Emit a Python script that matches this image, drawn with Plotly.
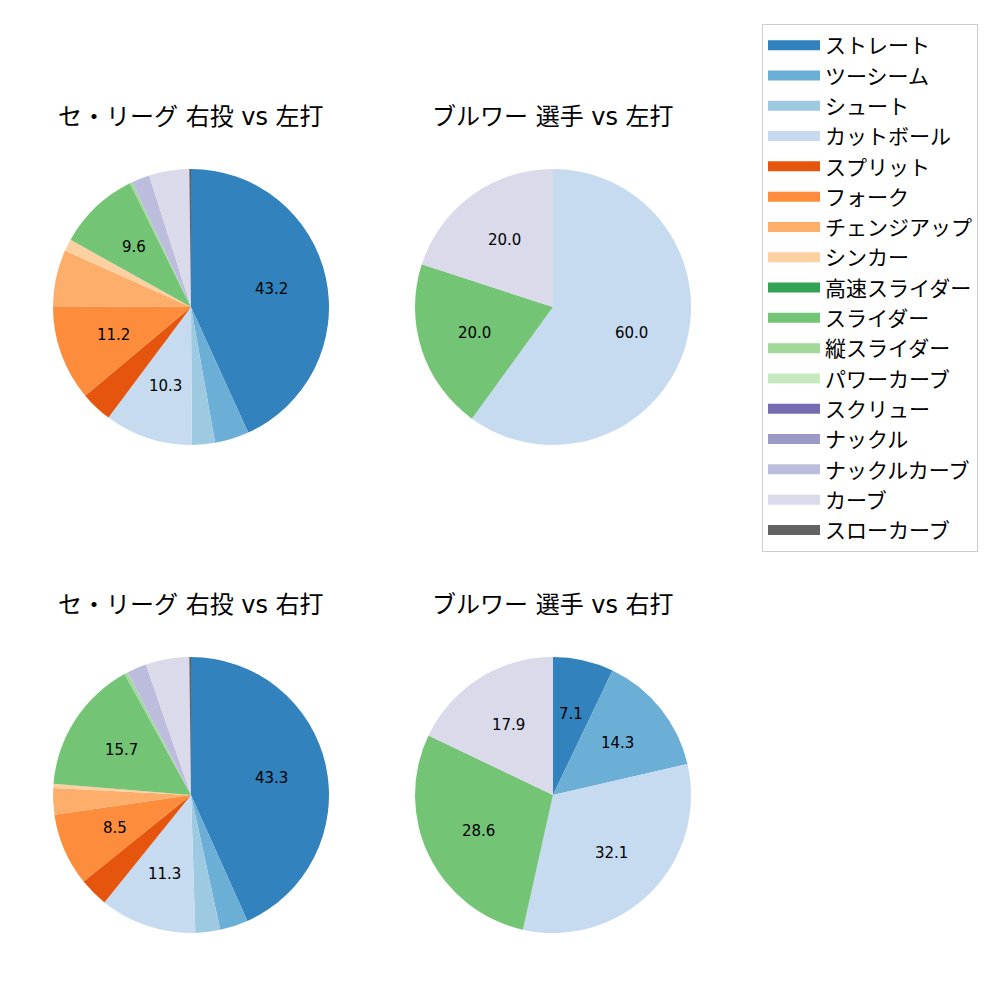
import math
import plotly.graph_objects as go

pitch_types = ["ストレート", "ツーシーム", "シュート", "カットボール", "スプリット", "フォーク",
               "チェンジアップ", "シンカー", "高速スライダー", "スライダー", "縦スライダー",
               "パワーカーブ", "スクリュー", "ナックル", "ナックルカーブ", "カーブ", "スローカーブ"]
colors = ["#3182bd", "#6baed6", "#9ecae1", "#c6dbef", "#e6550d", "#fd8d3c", "#fdae6b", "#fdd0a2",
          "#31a354", "#74c476", "#a1d99b", "#c7e9c0", "#756bb1", "#9e9ac8", "#bcbddc", "#dadaeb",
          "#636363"]

league_vs_left = [43.2, 4.0, 2.7, 10.3, 3.7, 11.2, 6.6, 1.4, 0.0, 9.6, 0.3, 0.0, 0.0, 0.0, 2.1, 4.7, 0.2]
player_vs_left = [0, 0, 0, 60.0, 0, 0, 0, 0, 0, 20.0, 0, 0, 0, 0, 0, 20.0, 0]
league_vs_right = [43.3, 3.3, 2.9, 11.3, 3.4, 8.5, 3.1, 0.5, 0.0, 15.7, 0.4, 0.0, 0.0, 0.0, 2.3, 5.1, 0.2]
player_vs_right = [7.1, 14.3, 0, 32.1, 0, 0, 0, 0, 0, 28.6, 0, 0, 0, 0, 0, 17.9, 0]

titles = ["セ・リーグ 右投 vs 左打", "ブルワー 選手 vs 左打", "セ・リーグ 右投 vs 右打", "ブルワー 選手 vs 右打"]
series = [league_vs_left, player_vs_left, league_vs_right, player_vs_right]

FONT = "DejaVu Sans, Noto Sans CJK JP"
label_threshold = 7.0

# pixel geometry (1000x1000 canvas)
centers = [(191, 307), (553, 307), (191, 795), (553, 795)]
R = 138
title_y = [117, 117, 605, 605]

fig = go.Figure()
for vals, (cx, cy) in zip(series, centers):
    labs, vs, cs = [], [], []
    for lab, v, c in zip(pitch_types, vals, colors):
        if v > 0:
            labs.append(lab); vs.append(v); cs.append(c)
    fig.add_trace(go.Pie(
        labels=labs, values=vs, textinfo="none",
        marker=dict(colors=cs, line=dict(width=0)),
        sort=False, direction="clockwise", rotation=0,
        showlegend=False, hoverinfo="label+value",
        domain=dict(x=[(cx - R) / 1000, (cx + R) / 1000],
                    y=[1 - (cy + R) / 1000, 1 - (cy - R) / 1000]),
    ))
    # percentage labels at 0.6 radius along each slice's bisector
    total = sum(vs)
    cum = 0.0
    for v in vs:
        frac_mid = (cum + v / 2) / total
        cum += v
        pct = 100 * v / total
        if pct < label_threshold:
            continue
        ang = math.radians(90 - 360 * frac_mid)
        px = cx + 0.6 * R * math.cos(ang)
        py = cy - 0.6 * R * math.sin(ang)
        fig.add_annotation(text=f"{pct:.1f}", x=px / 1000, y=1 - py / 1000,
                           xref="paper", yref="paper", showarrow=False,
                           xanchor="center", yanchor="middle",
                           font=dict(family=FONT, size=15, color="black"))

# legend entries
for lab, c in zip(pitch_types, colors):
    fig.add_trace(go.Scatter(
        x=[None], y=[None], mode="lines", name=lab, legendgroup=lab,
        line=dict(color=c, width=14),
        showlegend=True,
    ))

for t, (cx, cy), ty in zip(titles, centers, title_y):
    fig.add_annotation(text=t, x=cx / 1000, y=1 - ty / 1000, xref="paper", yref="paper",
                       showarrow=False, xanchor="center", yanchor="middle",
                       font=dict(family=FONT, size=24, color="black"))

fig.update_layout(
    width=1000, height=1000, margin=dict(l=0, r=0, t=0, b=0),
    paper_bgcolor="white", plot_bgcolor="white",
    font=dict(family=FONT, color="black"),
    xaxis=dict(visible=False), yaxis=dict(visible=False),
    legend=dict(x=0.762, y=0.976, xanchor="left", yanchor="top",
                bordercolor="#cccccc", borderwidth=1, bgcolor="white",
                font=dict(family="Noto Sans CJK JP", size=21, color="black"),
                tracegroupgap=0, itemwidth=52),
)
fig.write_html("out.html")
